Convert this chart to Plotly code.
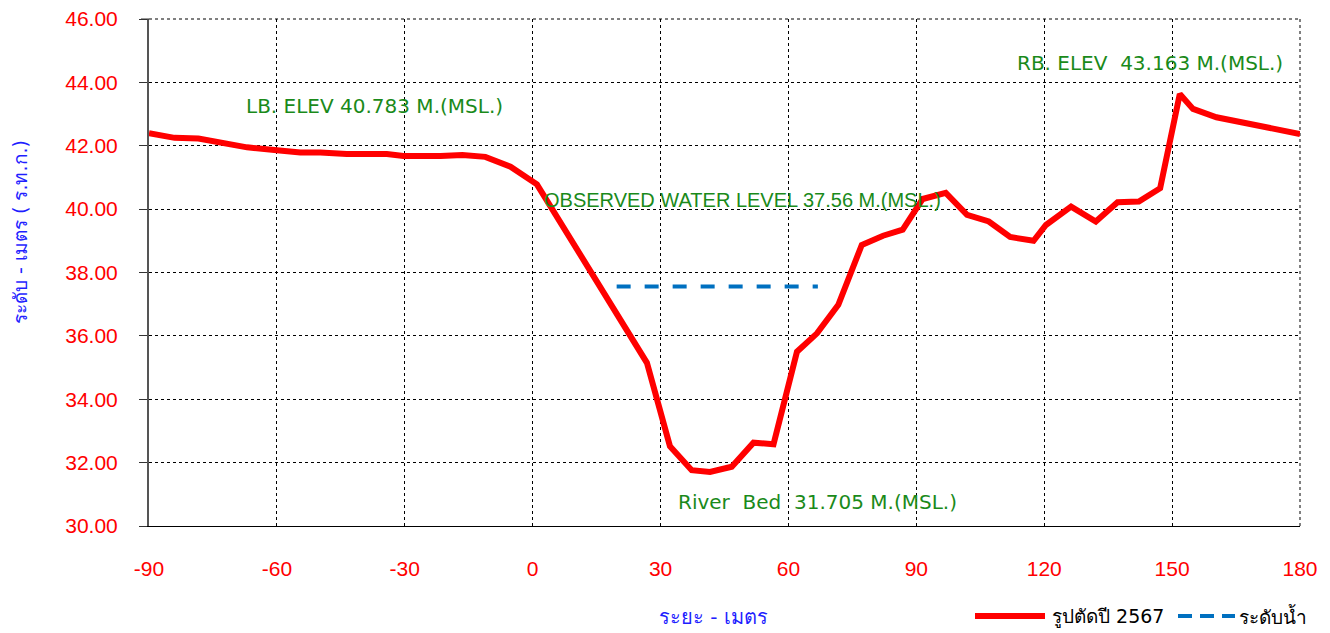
import plotly.graph_objects as go

# Cross-section data (distance in m, elevation in m MSL)
distance = [-90, -84, -78.4, -67, -60, -54.5, -49.8, -43.6, -34.2, -30.3, -21.6, -16.5, -11.1,
            -5.2, 1, 26.8, 32.2, 37.3, 41.6, 46.7, 51.8, 56.5, 62, 66.7, 71.7, 77.2, 82.2, 86.8,
            91.5, 96.9, 101.9, 107, 112, 117.5, 120.4, 126.3, 132.1, 137.2, 142.2, 147.2, 151.8,
            154.9, 160.4, 165.1, 171.4, 176.9, 180]
elevation = [42.40, 42.25, 42.23, 41.95, 41.86, 41.79, 41.79, 41.74, 41.74, 41.68, 41.68, 41.71,
             41.65, 41.34, 40.783, 35.15, 32.52, 31.76, 31.705, 31.87, 32.63, 32.58, 35.50, 36.08,
             36.98, 38.87, 39.16, 39.35, 40.32, 40.51, 39.82, 39.61, 39.12, 39.00, 39.50, 40.08,
             39.61, 40.22, 40.24, 40.66, 43.63, 43.163, 42.90, 42.77, 42.60, 42.41, 42.37]

water_x = [19.7, 66.9]
water_y = [37.56, 37.56]

x_ticks = [-90, -60, -30, 0, 30, 60, 90, 120, 150, 180]
y_ticks = [30, 32, 34, 36, 38, 40, 42, 44, 46]

series_names = ["รูปตัดปี 2567", "ระดับน้ำ"]

labels = [
    {"text": "LB. ELEV 40.783 M.(MSL.)", "x": -37.2, "y": 43.25, "font": "Tahoma, DejaVu Sans"},
    {"text": "OBSERVED WATER LEVEL 37.56 M.(MSL.)", "x": 49.2, "y": 40.29, "font": "Arial, Liberation Sans"},
    {"text": "River  Bed  31.705 M.(MSL.)", "x": 66.8, "y": 30.76, "font": "Tahoma, DejaVu Sans"},
    {"text": "RB. ELEV  43.163 M.(MSL.)", "x": 144.8, "y": 44.61, "font": "Tahoma, DejaVu Sans"},
]

# page body has an 8px margin; size the figure so the plot lands where the reference has it
OFF = 8
W, H = 1330 - OFF, 633 - OFF
L, R, T, B = 149 - OFF, 30, 19 - OFF, 107
pw, ph = W - L - R, H - T - B


def px2paper(px, py):
    # px, py: window pixel positions
    return (px - OFF - L) / pw, 1 - (py - OFF - T) / ph


fig = go.Figure()
fig.add_trace(go.Scatter(x=distance, y=elevation, mode="lines", name=series_names[0],
                         line=dict(color="#ff0000", width=6), showlegend=False))
fig.add_trace(go.Scatter(x=water_x, y=water_y, mode="lines", name=series_names[1],
                         line=dict(color="#0070c0", width=4, dash="14px,14px"), showlegend=False))

green = "#1a8a1a"
for lb in labels:
    fig.add_annotation(x=lb["x"], y=lb["y"], text=lb["text"], showarrow=False,
                       xref="x", yref="y",
                       font=dict(family=lb["font"], size=20, color=green))

# Axis titles
tx, ty = px2paper(713, 617)
fig.add_annotation(text="ระยะ - เมตร", x=tx, y=ty, xref="paper", yref="paper",
                   xanchor="center", yanchor="middle", showarrow=False,
                   font=dict(family="Tahoma, DejaVu Sans", size=20, color="#1f1fff"))
tx, ty = px2paper(20, 232)
fig.add_annotation(text="ระดับ - เมตร ( ร.ท.ก.)", x=tx, y=ty, xref="paper", yref="paper",
                   xanchor="center", yanchor="middle", textangle=-90, showarrow=False,
                   font=dict(family="Tahoma, DejaVu Sans", size=19, color="#1f1fff"))

# Dotted border on top and right (plot edge gridlines)
fig.add_shape(type="line", xref="paper", yref="paper", x0=0, x1=1, y0=1, y1=1,
              line=dict(color="black", width=1, dash="dot"), layer="below")
fig.add_shape(type="line", xref="paper", yref="paper", x0=1, x1=1, y0=0, y1=1,
              line=dict(color="black", width=1, dash="dot"), layer="below")
# tick mark at the top of the y axis
fig.add_shape(type="line", xref="paper", yref="paper", x0=-8 / pw, x1=0, y0=1, y1=1,
              line=dict(color="#333333", width=1))

# Legend (drawn manually to match sample lengths)
legend_specs = [
    {"x0": 975, "x1": 1045, "tx": 1050, "color": "#ff0000", "width": 6, "dash": "solid"},
    {"x0": 1178, "x1": 1235, "tx": 1237, "color": "#0070c0", "width": 4, "dash": "14px,8px"},
]
ly = 616
for name, spec in zip(series_names, legend_specs):
    x0, y0 = px2paper(spec["x0"], ly)
    x1, _ = px2paper(spec["x1"], ly)
    fig.add_shape(type="line", xref="paper", yref="paper", x0=x0, x1=x1, y0=y0, y1=y0,
                  line=dict(color=spec["color"], width=spec["width"], dash=spec["dash"]))
    txp, typ = px2paper(spec["tx"], ly)
    fig.add_annotation(text=name, x=txp, y=typ, xref="paper", yref="paper",
                       xanchor="left", yanchor="middle", showarrow=False,
                       font=dict(family="Tahoma, DejaVu Sans", size=19, color="black"))

fig.update_layout(
    width=W, height=H,
    margin=dict(l=L, r=R, t=T, b=B, autoexpand=False),
    paper_bgcolor="white", plot_bgcolor="white",
    showlegend=False,
    xaxis=dict(range=[-90, 180], tickvals=x_ticks, ticktext=[str(v) for v in x_ticks],
               showgrid=True, gridcolor="black", griddash="dot", gridwidth=1,
               showline=True, linecolor="black", linewidth=1,
               ticks="", zeroline=False, automargin=False, ticklabeloverflow="allow",
               tickfont=dict(family="Arial, Liberation Sans", size=21, color="#ff0000"),
               ticklabelstandoff=24),
    yaxis=dict(range=[30, 46], tickvals=y_ticks, ticktext=[f"{v:.2f}" for v in y_ticks],
               showgrid=True, gridcolor="black", griddash="dot", gridwidth=1,
               showline=True, linecolor="#555555", linewidth=2,
               ticks="outside", ticklen=8, tickcolor="#333333", zeroline=False, automargin=False,
               ticklabeloverflow="allow",
               tickfont=dict(family="Arial, Liberation Sans", size=21, color="#ff0000"),
               ticklabelstandoff=17),
)

fig.write_html("out.html")
